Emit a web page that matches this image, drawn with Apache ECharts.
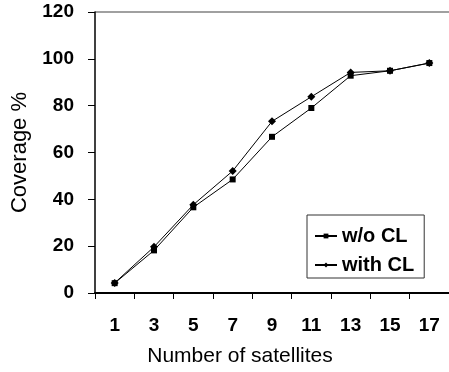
<!DOCTYPE html>
<html>
<head>
<meta charset="utf-8">
<script src="https://cdn.jsdelivr.net/npm/echarts@6/dist/echarts.min.js"></script>
<style>
html,body{margin:0;padding:0;background:#fff;}
#chart{width:449px;height:372px;}
</style>
</head>
<body>
<div id="chart"></div>
<script>
var categories = ['1','3','5','7','9','11','13','15','17'];
var withoutCL = [4.2, 18.2, 36.6, 48.5, 66.7, 79.0, 92.8, 94.9, 98.2];
var withCL = [4.3, 19.7, 37.7, 52.1, 73.3, 83.8, 94.2, 94.9, 98.2];
var yTicks = [0, 20, 40, 60, 80, 100, 120];

var font = '"Liberation Sans", Arial, sans-serif';
var chart = echarts.init(document.getElementById('chart'));
chart.setOption({
  animation: false,
  backgroundColor: '#fff',
  grid: {left: 95, right: -8, top: 12, bottom: 76, containLabel: false},
  xAxis: {
    type: 'category',
    data: categories,
    boundaryGap: true,
    axisLine: {lineStyle: {color: '#000', width: 2}},
    axisTick: {show: true, length: 6, alignWithLabel: false, lineStyle: {color: '#000', width: 1}},
    axisLabel: {margin: 23, fontFamily: font, fontWeight: 'bold', fontSize: 19, color: '#000'},
    name: 'Number of satellites',
    nameLocation: 'middle',
    nameGap: 53,
    nameTextStyle: {fontFamily: font, fontSize: 21, color: '#000', padding: [0, 64, 0, 0]},
    splitLine: {show: false}
  },
  yAxis: {
    type: 'value',
    min: yTicks[0],
    max: yTicks[yTicks.length - 1],
    interval: 20,
    axisLine: {show: true, lineStyle: {color: '#000', width: 1.5}},
    axisTick: {show: true, length: 7, lineStyle: {color: '#000', width: 1}},
    axisLabel: {margin: 21, fontFamily: font, fontWeight: 'bold', fontSize: 19, color: '#000'},
    name: 'Coverage %',
    nameLocation: 'middle',
    nameGap: 59,
    nameTextStyle: {fontFamily: font, fontSize: 22, color: '#000'},
    splitLine: {show: true, lineStyle: {color: ['transparent','transparent','transparent','transparent','transparent','transparent','#808080'], width: 1.5}}
  },
  legend: {
    orient: 'vertical',
    left: 307,
    top: 215,
    width: 120,
    padding: [11, 10, 3, 7],
    itemGap: 9,
    itemWidth: 22,
    itemHeight: 6,
    borderColor: '#333',
    borderWidth: 1,
    textStyle: {fontFamily: font, fontWeight: 'bold', fontSize: 20, color: '#000'},
    data: ['w/o CL', 'with CL']
  },
  series: [
    {
      name: 'w/o CL',
      type: 'line',
      data: withoutCL,
      symbol: 'rect',
      symbolSize: 6,
      lineStyle: {color: '#000', width: 1},
      itemStyle: {color: '#000'}
    },
    {
      name: 'with CL',
      type: 'line',
      data: withCL,
      symbol: 'diamond',
      symbolSize: 8,
      lineStyle: {color: '#000', width: 1},
      itemStyle: {color: '#000'}
    }
  ]
});
</script>
</body>
</html>
